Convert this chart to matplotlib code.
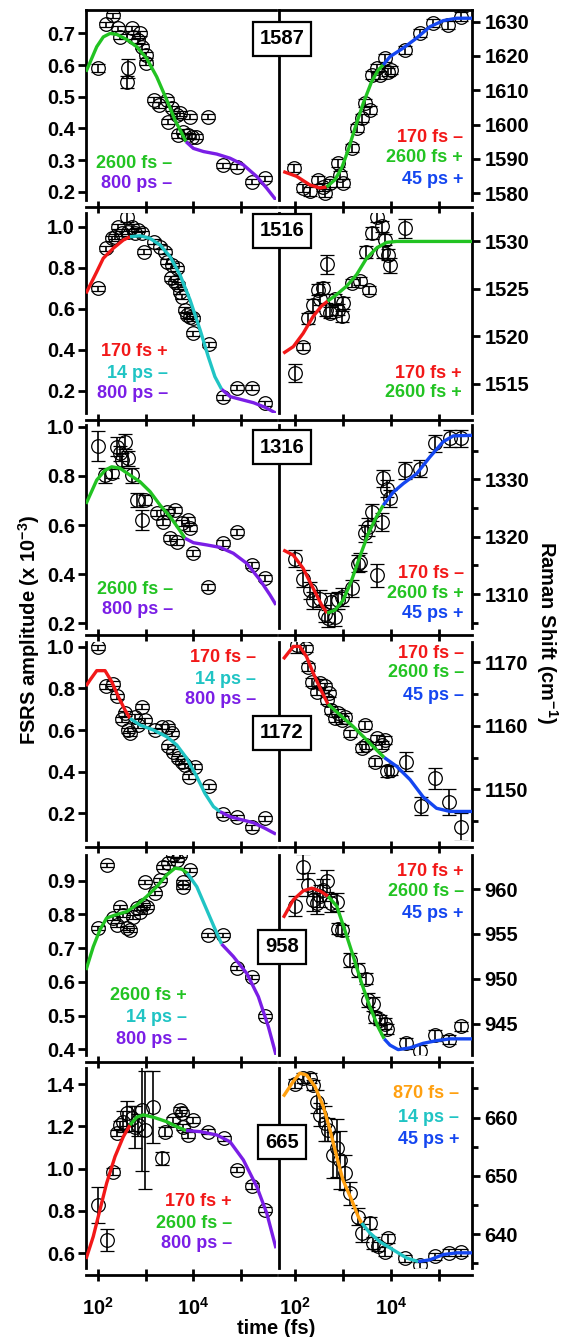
import numpy as np
import matplotlib
matplotlib.use('Agg')
import matplotlib.pyplot as plt
from matplotlib.ticker import FixedLocator, NullLocator, FixedFormatter

plt.rcParams['font.family'] = ['Liberation Sans', 'DejaVu Sans']
plt.rcParams['font.weight'] = 'bold'
plt.rcParams['mathtext.fontset'] = 'custom'
plt.rcParams['mathtext.bf'] = 'Liberation Sans:bold'
plt.rcParams['mathtext.rm'] = 'Liberation Sans:bold'
plt.rcParams['mathtext.default'] = 'bf'

COL = {'red': '#f21818', 'green': '#22c322', 'purple': '#7a1ee6',
       'cyan': '#20c4c4', 'blue': '#1446f0', 'orange': '#ffa010'}

# ---------------- Row 1 : 1587 ----------------
A1587_logt = [2.0, 2.168, 2.308, 2.426, 2.46, 2.62, 2.60, 2.706, 2.74, 2.845, 2.88, 2.916, 3.0, 3.013,
              3.174, 3.285, 3.44, 3.545, 3.474, 3.65, 3.72, 3.683, 3.79, 3.89, 3.96, 4.05, 3.93, 4.31,
              4.61, 4.91, 5.22, 5.5]
A1587_y = [0.59, 0.729, 0.758, 0.716, 0.689, 0.59, 0.547, 0.716, 0.689, 0.679, 0.70, 0.658, 0.632, 0.608,
           0.49, 0.474, 0.49, 0.463, 0.421, 0.442, 0.448, 0.379, 0.39, 0.379, 0.374, 0.374, 0.437, 0.437,
           0.284, 0.279, 0.232, 0.242]
A1587_err = [0.012, 0.008, 0.008, 0.008, 0.008, 0.03, 0.02, 0.008, 0.008, 0.008, 0.008, 0.008, 0.008, 0.008,
             0.008, 0.008, 0.008, 0.008, 0.008, 0.008, 0.008, 0.008, 0.008, 0.008, 0.008, 0.008, 0.008, 0.008,
             0.008, 0.008, 0.008, 0.008]
A1587_fit = [('green', [1.748, 1.973, 2.111, 2.252, 2.392, 2.60, 2.811, 3.02, 3.23, 3.44, 3.614, 3.755, 3.845],
              [0.579, 0.658, 0.689, 0.70, 0.697, 0.681, 0.658, 0.621, 0.563, 0.49, 0.426, 0.385, 0.358]),
             ('purple', [3.845, 3.998, 4.21, 4.49, 4.767, 5.046, 5.327, 5.537, 5.73],
              [0.358, 0.337, 0.327, 0.319, 0.306, 0.285, 0.248, 0.211, 0.174])]

S1587_logt = [1.979, 2.174, 2.31, 2.486, 2.59, 2.625, 2.73, 2.903, 2.94, 3.007, 3.18, 3.30, 3.39, 3.458,
              3.5625, 3.597, 3.70, 3.77, 3.875, 3.94, 4.01, 4.29, 4.60, 4.88, 5.19, 5.47]
S1587_y = [1587.3, 1581.6, 1580.5, 1583.9, 1581.9, 1580.0, 1582.9, 1588.8, 1585.3, 1582.9, 1593.1, 1598.9,
           1601.9, 1606.2, 1604.3, 1614.5, 1616.4, 1614.5, 1619.3, 1615.4, 1615.9, 1621.8, 1626.6, 1629.5,
           1629.0, 1631.5]
S1587_err = [1.2] * len(S1587_y)
S1587_fit = [('red', [1.756, 2.035, 2.31, 2.52, 2.66], [1586.3, 1584.9, 1582.4, 1581.5, 1581.8]),
             ('green', [2.66, 2.833, 2.973, 3.11, 3.25, 3.423, 3.597, 3.735, 3.84],
              [1581.8, 1583.9, 1587.3, 1592.6, 1598.9, 1606.2, 1612.5, 1615.9, 1617.4]),
             ('blue', [3.84, 3.98, 4.256, 4.535, 4.81, 5.09, 5.37, 5.69],
              [1617.4, 1619.8, 1622.3, 1625.2, 1628.5, 1630.3, 1631.0, 1631.0])]

# ---------------- Row 2 : 1516 ----------------
A1516_logt = [1.994, 2.168, 2.287, 2.356, 2.426, 2.497, 2.60, 2.636, 2.706, 2.776, 2.845, 2.916, 2.964, 3.174,
              3.30, 3.405, 3.44, 3.545, 3.65, 3.52, 3.614, 3.683, 3.72, 3.755, 3.824, 3.86, 3.93, 3.985,
              3.985, 4.33, 4.61, 4.92, 5.22, 5.50]
A1516_y = [0.70, 0.894, 0.943, 0.951, 1.0, 0.968, 1.049, 0.976, 1.0, 0.968, 0.984, 0.968, 0.878, 0.927,
           0.902, 0.878, 0.829, 0.813, 0.797, 0.748, 0.732, 0.716, 0.683, 0.659, 0.594, 0.569, 0.561, 0.553,
           0.48, 0.426, 0.168, 0.215, 0.215, 0.139]
A1516_err = [0.012] * 6 + [0.025] + [0.012] * 27
A1516_fit = [('red', [1.748, 1.973, 2.11, 2.32, 2.53, 2.67], [0.675, 0.78, 0.846, 0.895, 0.935, 0.951]),
             ('cyan', [2.67, 2.88, 3.09, 3.30, 3.51, 3.72, 3.93, 4.14, 4.31, 4.45, 4.59],
              [0.951, 0.956, 0.943, 0.911, 0.854, 0.764, 0.642, 0.496, 0.366, 0.268, 0.207]),
             ('purple', [4.59, 4.77, 4.98, 5.26, 5.50, 5.73], [0.207, 0.171, 0.158, 0.141, 0.119, 0.09])]

S1516_logt = [2.0, 2.174, 2.28, 2.38, 2.47, 2.52, 2.59, 2.66, 2.65, 2.73, 2.83, 2.90, 2.97, 3.0, 3.18, 3.35,
              3.55, 3.49, 3.60, 3.70, 3.81, 3.84, 3.875, 3.94, 3.98, 4.29]
S1516_y = [1516.1, 1518.9, 1521.9, 1523.3, 1524.9, 1523.9, 1525.1, 1527.6, 1522.8, 1522.5, 1523.9, 1522.8,
           1522.1, 1523.5, 1525.6, 1525.8, 1524.9, 1528.9, 1530.9, 1532.6, 1531.6, 1528.9, 1530.2, 1528.6,
           1527.5, 1531.4]
S1516_err = [0.93, 0.4, 0.6, 0.6, 0.6, 0.6, 0.6, 1.0, 0.7, 0.6, 0.6, 0.6, 0.6, 0.6, 0.4, 0.4, 0.4, 0.6,
             0.6, 0.6, 0.6, 0.6, 0.6, 0.6, 0.8, 1.0]
S1516_fit = [('red', [1.756, 1.965, 2.17, 2.38, 2.556, 2.68], [1518.2, 1518.9, 1520.3, 1522.1, 1523.2, 1523.7]),
             ('green', [2.68, 2.87, 3.08, 3.285, 3.49, 3.70, 3.91, 4.12, 5.69],
              [1523.7, 1524.4, 1525.3, 1526.5, 1528.2, 1529.3, 1529.9, 1530.0, 1530.0])]

# ---------------- Row 3 : 1316 ----------------
A1316_logt = [2.006, 2.147, 2.287, 2.39, 2.46, 2.50, 2.565, 2.636, 2.706, 2.81, 2.916, 2.985, 3.23, 3.37,
              3.44, 3.614, 3.51, 3.65, 3.755, 3.893, 3.93, 3.985, 4.31, 4.61, 4.92, 5.22, 5.50]
A1316_y = [0.921, 0.803, 0.81, 0.919, 0.892, 0.864, 0.939, 0.871, 0.803, 0.702, 0.62, 0.702, 0.648, 0.613,
           0.654, 0.661, 0.546, 0.532, 0.607, 0.62, 0.587, 0.487, 0.349, 0.526, 0.573, 0.437, 0.383]
A1316_err = [0.062, 0.03, 0.02, 0.04, 0.03, 0.03, 0.03, 0.03, 0.03, 0.03, 0.04, 0.02] + [0.012] * 15
A1316_fit = [('green', [1.748, 1.973, 2.147, 2.287, 2.46, 2.67, 2.88, 3.09, 3.30, 3.51, 3.683, 3.824],
              [0.686, 0.783, 0.823, 0.837, 0.831, 0.803, 0.776, 0.736, 0.681, 0.634, 0.587, 0.546]),
             ('purple', [3.824, 4.0, 4.28, 4.557, 4.836, 5.117, 5.396, 5.606, 5.73],
              [0.546, 0.528, 0.519, 0.509, 0.485, 0.444, 0.376, 0.315, 0.275])]

S1316_logt = [2.0, 2.174, 2.31, 2.38, 2.52, 2.625, 2.69, 2.76, 2.83, 2.90, 2.97, 3.18, 3.32, 3.35, 3.46,
              3.53, 3.60, 3.70, 3.81, 3.84, 3.91, 3.98, 4.29, 4.60, 4.92, 5.23, 5.47]
S1316_y = [1316.2, 1312.7, 1310.7, 1308.9, 1309.2, 1306.6, 1305.8, 1308.7, 1306.0, 1308.9, 1309.5, 1311.0,
           1315.3, 1315.6, 1320.6, 1321.7, 1324.3, 1313.3, 1322.6, 1330.2, 1328.4, 1326.7, 1331.6, 1331.9,
           1336.3, 1337.2, 1337.2]
S1316_err = [1.5] * 17 + [2.0] + [1.5] * 9
S1316_fit = [('red', [1.756, 1.965, 2.17, 2.38, 2.556, 2.67], [1317.7, 1316.8, 1314.5, 1311.0, 1308.1, 1306.7]),
             ('green', [2.67, 2.83, 3.0, 3.18, 3.35, 3.53, 3.70, 3.84],
              [1306.7, 1307.2, 1308.9, 1312.4, 1316.5, 1320.6, 1323.5, 1325.5]),
             ('blue', [3.84, 4.05, 4.26, 4.535, 4.81, 5.09, 5.30, 5.69],
              [1325.5, 1327.8, 1329.3, 1331.0, 1333.9, 1336.6, 1337.6, 1337.7])]

# ---------------- Row 4 : 1172 ----------------
A1172_logt = [1.994, 2.168, 2.32, 2.39, 2.497, 2.566, 2.636, 2.67, 2.776, 2.845, 2.916, 2.985, 3.195, 3.335,
              3.474, 3.545, 3.474, 3.58, 3.683, 3.755, 3.824, 3.914, 4.03, 4.33, 4.61, 4.92, 5.22, 5.50]
A1172_y = [0.997, 0.811, 0.821, 0.763, 0.651, 0.68, 0.60, 0.584, 0.664, 0.624, 0.712, 0.648, 0.60, 0.616,
           0.616, 0.584, 0.523, 0.496, 0.464, 0.448, 0.432, 0.376, 0.424, 0.331, 0.195, 0.181, 0.133, 0.176]
A1172_err = [0.012] * len(A1172_y)
A1172_fit = [('red', [1.748, 1.832, 1.973, 2.147, 2.287, 2.426, 2.566, 2.67],
              [0.811, 0.84, 0.885, 0.885, 0.832, 0.76, 0.696, 0.656]),
             ('cyan', [2.67, 2.88, 3.16, 3.44, 3.65, 3.86, 4.07, 4.24, 4.42, 4.557],
              [0.656, 0.624, 0.60, 0.568, 0.528, 0.464, 0.376, 0.296, 0.232, 0.208]),
             ('purple', [4.557, 4.767, 4.98, 5.256, 5.50, 5.73], [0.208, 0.184, 0.171, 0.155, 0.128, 0.10])]

S1172_logt = [2.035, 2.24, 2.28, 2.35, 2.45, 2.52, 2.625, 2.66, 2.715, 2.76, 2.83, 2.90, 2.97, 3.04, 3.146,
              3.458, 3.39, 3.49, 3.67, 3.70, 3.81, 3.875, 3.91, 4.01, 4.31, 4.62, 4.92, 5.22, 5.47]
S1172_y = [1172.7, 1172.2, 1169.3, 1166.9, 1165.4, 1166.7, 1166.2, 1164.1, 1165.1, 1162.5, 1161.2, 1162.0,
           1160.9, 1161.4, 1158.8, 1160.1, 1156.5, 1157.0, 1154.3, 1158.0, 1157.0, 1157.8, 1152.8, 1153.0,
           1154.3, 1147.3, 1151.7, 1148.0, 1144.1]
S1172_err = [1.2] + [0.6] * 21 + [0.8, 0.8, 1.5, 1.4, 1.6, 2.0, 2.2]
S1172_fit = [('red', [1.756, 1.965, 2.10, 2.24, 2.38, 2.556, 2.69],
              [1170.5, 1172.5, 1172.5, 1170.9, 1168.3, 1165.4, 1163.4]),
             ('green', [2.69, 2.94, 3.21, 3.49, 3.70, 3.86], [1163.4, 1161.7, 1159.9, 1157.8, 1156.2, 1155.0]),
             ('blue', [3.86, 4.12, 4.40, 4.67, 4.95, 5.23, 5.69],
              [1155.0, 1153.6, 1151.5, 1148.8, 1147.0, 1146.5, 1146.5])]

# ---------------- Row 5 : 958 ----------------
A958_logt = [1.994, 2.18, 2.31, 2.39, 2.46, 2.53, 2.60, 2.67, 2.74, 2.81, 2.88, 2.95, 3.02, 2.985, 3.195,
             3.30, 3.37, 3.474, 3.58, 3.65, 3.72, 3.776, 3.79, 3.93, 4.31, 4.61, 4.91, 5.22, 5.50]
A958_y = [0.759, 0.947, 0.789, 0.769, 0.823, 0.798, 0.759, 0.754, 0.793, 0.818, 0.808, 0.828, 0.823, 0.897,
          0.862, 0.902, 0.941, 0.952, 0.976, 0.961, 0.976, 0.897, 0.88, 0.932, 0.739, 0.739, 0.64, 0.615, 0.50]
A958_err = [0.006] * len(A958_y)
A958_fit = [('green', [1.748, 1.90, 2.04, 2.18, 2.356, 2.60, 2.81, 3.02, 3.23, 3.44, 3.614, 3.755, 3.87],
             [0.635, 0.704, 0.754, 0.789, 0.798, 0.808, 0.828, 0.853, 0.882, 0.917, 0.937, 0.934, 0.922]),
            ('cyan', [3.87, 4.07, 4.28, 4.49, 4.59], [0.922, 0.882, 0.813, 0.744, 0.712]),
            ('purple', [4.59, 4.836, 5.117, 5.36, 5.57, 5.73], [0.712, 0.675, 0.625, 0.556, 0.467, 0.383])]

S958_logt = [2.0, 2.17, 2.28, 2.38, 2.45, 2.52, 2.59, 2.66, 2.76, 2.87, 2.90, 2.97, 3.15, 3.32, 3.49, 3.53,
             3.63, 3.66, 3.77, 3.875, 3.91, 4.31, 4.60, 4.92, 5.22, 5.47]
S958_y = [958.1, 962.5, 960.5, 958.8, 958.4, 959.2, 959.9, 960.9, 958.4, 958.6, 955.6, 955.4, 952.1, 951.0,
          950.0, 947.6, 947.2, 945.7, 945.4, 945.0, 944.4, 942.8, 942.0, 943.7, 943.2, 944.7]
S958_err = [1.1, 1.4, 1.3, 1.2, 1.2, 1.2, 1.2, 1.2, 1.0, 1.0, 0.6, 0.6, 0.8, 0.8, 0.6, 0.8, 0.8, 0.6, 0.6,
            0.6, 0.6, 0.6, 0.6, 0.6, 0.5, 0.5]
S958_fit = [('red', [1.756, 1.965, 2.17, 2.35, 2.52, 2.69], [956.8, 958.8, 959.8, 960.1, 959.8, 959.2]),
            ('green', [2.69, 2.87, 3.04, 3.215, 3.39, 3.56, 3.735, 3.86],
             [959.2, 958.1, 955.4, 952.5, 949.5, 946.9, 944.6, 943.3]),
            ('blue', [3.86, 3.98, 4.15, 4.40, 4.67, 4.95, 5.23, 5.69],
             [943.3, 942.6, 942.1, 942.3, 942.8, 943.1, 943.3, 943.3])]

# ---------------- Row 6 : 665 ----------------
A665_logt = [1.994, 2.18, 2.32, 2.39, 2.46, 2.53, 2.60, 2.71, 2.776, 2.845, 2.916, 2.985, 3.16, 3.335, 3.405,
             3.58, 3.72, 3.755, 3.79, 3.89, 4.0, 4.31, 4.63, 4.92, 5.22, 5.50]
A665_y = [0.828, 0.663, 0.986, 1.167, 1.206, 1.222, 1.262, 1.238, 1.198, 1.206, 1.277, 1.183, 1.293, 1.049,
          1.175, 1.23, 1.277, 1.262, 1.198, 1.159, 1.23, 1.175, 1.143, 0.994, 0.918, 0.805]
A665_err = [0.087, 0.05, 0.015, 0.015, 0.02, 0.05, 0.06, 0.06, 0.1, 0.05, 0.29, 0.28, 0.17, 0.03, 0.02,
            0.015, 0.015, 0.015, 0.015, 0.015, 0.015, 0.012, 0.012, 0.012, 0.012, 0.012]
A665_fit = [('red', [1.748, 1.90, 2.04, 2.18, 2.356, 2.53, 2.67], [0.573, 0.679, 0.805, 0.931, 1.057, 1.151, 1.206]),
            ('green', [2.67, 2.81, 2.95, 3.16, 3.44, 3.65, 3.845], [1.206, 1.243, 1.254, 1.243, 1.222, 1.198, 1.18]),
            ('purple', [3.845, 4.14, 4.49, 4.767, 5.046, 5.327, 5.537, 5.73],
             [1.18, 1.175, 1.159, 1.127, 1.041, 0.915, 0.789, 0.624])]

S665_logt = [2.0, 2.17, 2.31, 2.38, 2.45, 2.52, 2.625, 2.69, 2.80, 2.87, 2.94, 3.04, 3.146, 3.32, 3.39, 3.56,
             3.63, 3.735, 3.875, 3.94, 4.29, 4.60, 4.92, 5.22, 5.47]
S665_y = [665.8, 666.8, 666.8, 665.6, 662.7, 660.5, 659.0, 657.9, 653.6, 654.8, 652.7, 650.5, 647.0, 643.0,
          640.2, 641.9, 638.5, 637.9, 637.0, 639.3, 635.9, 634.7, 636.2, 636.8, 636.9]
S665_err = [0.8, 0.8, 0.8, 0.8, 2.0, 2.0, 3.0, 2.0, 4.0, 5.0, 5.0, 3.0, 2.0, 1.5, 1.5, 1.0, 1.0, 0.8, 0.8,
            0.8, 0.6, 0.6, 0.6, 0.6, 0.6]
S665_fit = [('orange', [1.756, 1.965, 2.10, 2.24, 2.42, 2.59, 2.73, 2.87, 3.0, 3.18, 3.32, 3.39],
             [663.6, 666.2, 667.6, 667.3, 665.3, 661.9, 657.9, 653.3, 649.3, 645.9, 643.0, 641.9]),
            ('cyan', [3.39, 3.5625, 3.77, 4.05, 4.33, 4.57], [641.9, 640.2, 638.7, 637.3, 635.9, 635.3]),
            ('blue', [4.57, 4.81, 5.09, 5.37, 5.69], [635.3, 635.6, 636.5, 636.8, 636.8])]

MODES = ['1587', '1516', '1316', '1172', '958', '665']

# annotation labels: (text, colour)
A_labels = [[('2600 fs –', 'green'), ('800 ps –', 'purple')],
            [('170 fs +', 'red'), ('14 ps –', 'cyan'), ('800 ps –', 'purple')],
            [('2600 fs –', 'green'), ('800 ps –', 'purple')],
            [('170 fs –', 'red'), ('14 ps –', 'cyan'), ('800 ps –', 'purple')],
            [('2600 fs +', 'green'), ('14 ps –', 'cyan'), ('800 ps –', 'purple')],
            [('170 fs +', 'red'), ('2600 fs –', 'green'), ('800 ps –', 'purple')]]
S_labels = [[('170 fs –', 'red'), ('2600 fs +', 'green'), ('45 ps +', 'blue')],
            [('170 fs +', 'red'), ('2600 fs +', 'green')],
            [('170 fs –', 'red'), ('2600 fs +', 'green'), ('45 ps +', 'blue')],
            [('170 fs –', 'red'), ('2600 fs –', 'green'), ('45 ps –', 'blue')],
            [('170 fs +', 'red'), ('2600 fs –', 'green'), ('45 ps +', 'blue')],
            [('870 fs –', 'orange'), ('14 ps –', 'cyan'), ('45 ps +', 'blue')]]

A_data = [(A1587_logt, A1587_y, A1587_err, A1587_fit), (A1516_logt, A1516_y, A1516_err, A1516_fit),
          (A1316_logt, A1316_y, A1316_err, A1316_fit), (A1172_logt, A1172_y, A1172_err, A1172_fit),
          (A958_logt, A958_y, A958_err, A958_fit), (A665_logt, A665_y, A665_err, A665_fit)]
S_data = [(S1587_logt, S1587_y, S1587_err, S1587_fit), (S1516_logt, S1516_y, S1516_err, S1516_fit),
          (S1316_logt, S1316_y, S1316_err, S1316_fit), (S1172_logt, S1172_y, S1172_err, S1172_fit),
          (S958_logt, S958_y, S958_err, S958_fit), (S665_logt, S665_y, S665_err, S665_fit)]

# ---------------- layout (pixels) ----------------
W, H = 563, 1337
fig = plt.figure(figsize=(W / 100, H / 100), dpi=100)


def fxp(px):
    return px / W


def fyp(py):
    return 1 - py / H


ROWS = [(10, 200), (213, 413), (425, 628), (642, 840), (855, 1055), (1068, 1268)]
LX = (86, 276)
RX = (279, 472)

A_ylim = [(0.174, 0.774), (0.091, 1.067), (0.181, 1.007), (0.072, 1.0226), (0.383, 0.976), (0.5306, 1.4756)]
A_ticks = [[0.2, 0.3, 0.4, 0.5, 0.6, 0.7], [0.2, 0.4, 0.6, 0.8, 1.0], [0.2, 0.4, 0.6, 0.8, 1.0],
           [0.2, 0.4, 0.6, 0.8, 1.0], [0.4, 0.5, 0.6, 0.7, 0.8, 0.9], [0.6, 0.8, 1.0, 1.2, 1.4]]
S_ylim = [(1578.0, 1633.4), (1511.9, 1533.0), (1304.1, 1339.5), (1142.0, 1173.2), (941.5, 963.8), (634.2, 668.5)]
S_ticks = [[1580, 1590, 1600, 1610, 1620, 1630], [1515, 1520, 1525, 1530], [1310, 1320, 1330],
           [1150, 1160, 1170], [945, 950, 955, 960], [640, 650, 660]]
S_minor = [[], [], [1305, 1315, 1325, 1335], [1145, 1155, 1165], [], [635, 645, 655, 665]]

A_lab_pos = [(172, [163, 183]), (168, [352, 373, 394]), (173, [590, 610]), (256, [657, 679, 700]),
             (187, [996, 1017, 1039]), (232, [1202, 1223, 1244])]
S_lab_pos = [(463, [137, 158, 180]), (462, [373, 393]), (464, [573, 593, 614]), (464, [653, 673, 695]),
             (464, [871, 892, 913]), (459, [1094, 1117, 1139])]
BOX_Y = [39, 231, 447, 733, 947, 1142]

TICK_FS = 14.5
LAB_FS = 13
SPW = 2.0


def draw(ax, logt, y, err, fits):
    for name, fxv, fyv in fits:
        ax.plot(10 ** np.asarray(fxv), fyv, color=COL[name], lw=2.4, zorder=5,
                solid_capstyle='butt', solid_joinstyle='round')
    ax.errorbar(10 ** np.asarray(logt), y, yerr=err, fmt='o', mfc='none', mec='black', ms=9.8, mew=0.9,
                ecolor='black', elinewidth=1.2, capsize=5, capthick=1.2, zorder=4)


def style_common(ax, r, xlim):
    ax.set_xscale('log')
    ax.set_xlim(*xlim)
    ax.xaxis.set_major_locator(FixedLocator([1e2, 1e3, 1e4, 1e5]))
    ax.xaxis.set_minor_locator(NullLocator())
    ax.xaxis.set_major_formatter(FixedFormatter([r'$\mathbf{10^{2}}$', '', r'$\mathbf{10^{4}}$', '']))
    ax.spines['bottom'].set_position(('outward', 5))
    for s in ax.spines.values():
        s.set_linewidth(SPW)
    ax.spines['top'].set_visible(r == 0)
    ax.tick_params(axis='x', which='major', direction='inout', length=9, width=SPW,
                   labelbottom=(r == 5), labelsize=TICK_FS, pad=11)
    ax.patch.set_alpha(0)


for r, (top, bot) in enumerate(ROWS):
    # amplitude (left)
    axA = fig.add_axes([fxp(LX[0]), fyp(bot), (LX[1] - LX[0]) / W, (bot - top) / H])
    style_common(axA, r, (10 ** 1.748, 10 ** 5.73))
    axA.spines['right'].set_visible(False)
    axA.set_ylim(*A_ylim[r])
    axA.yaxis.set_major_locator(FixedLocator(A_ticks[r]))
    axA.yaxis.set_minor_locator(NullLocator())
    axA.set_yticklabels([f'{v:.1f}' for v in A_ticks[r]])
    axA.tick_params(axis='y', direction='out', length=6, width=SPW, labelsize=TICK_FS, pad=2)
    draw(axA, *A_data[r])

    # Raman shift (right)
    axS = fig.add_axes([fxp(RX[0]), fyp(bot), (RX[1] - RX[0]) / W, (bot - top) / H])
    style_common(axS, r, (10 ** 1.667, 10 ** 5.69))
    axS.set_ylim(*S_ylim[r])
    axS.yaxis.tick_right()
    axS.yaxis.set_major_locator(FixedLocator(S_ticks[r]))
    axS.yaxis.set_minor_locator(FixedLocator(S_minor[r]) if S_minor[r] else NullLocator())
    axS.set_yticklabels([str(v) for v in S_ticks[r]])
    axS.tick_params(axis='y', which='major', direction='out', length=6, width=SPW, labelsize=TICK_FS,
                    pad=3, left=False, right=True, labelleft=False, labelright=True)
    axS.tick_params(axis='y', which='minor', direction='out', length=4, width=SPW, left=False, right=True)
    draw(axS, *S_data[r])

    # annotations
    xr, ys = A_lab_pos[r]
    for (txt, c), yy in zip(A_labels[r], ys):
        fig.text(fxp(xr), fyp(yy), txt, color=COL[c], ha='right', va='center', fontsize=LAB_FS,
                 fontweight='bold')
    xr, ys = S_lab_pos[r]
    for (txt, c), yy in zip(S_labels[r], ys):
        fig.text(fxp(xr), fyp(yy), txt, color=COL[c], ha='right', va='center', fontsize=LAB_FS,
                 fontweight='bold')

    # mode box
    fig.text(fxp(282), fyp(BOX_Y[r]), MODES[r], ha='center', va='center', fontsize=14.5, fontweight='bold',
             zorder=10,
             bbox=dict(boxstyle='square,pad=0.35', fc='white', ec='black', lw=1.6))

fig.text(fxp(29), fyp(630), r'FSRS amplitude (x 10$^{\mathbf{-3}}$)', rotation=90, ha='center', va='center',
         fontsize=14.5, fontweight='bold')
fig.text(fxp(547), fyp(633), r'Raman Shift (cm$^{\mathbf{-1}}$)', rotation=270, ha='center', va='center',
         fontsize=14.5, fontweight='bold')
fig.text(fxp(276), fyp(1328), 'time (fs)', ha='center', va='center', fontsize=14.5, fontweight='bold')

fig.savefig('out.png', dpi=100)
